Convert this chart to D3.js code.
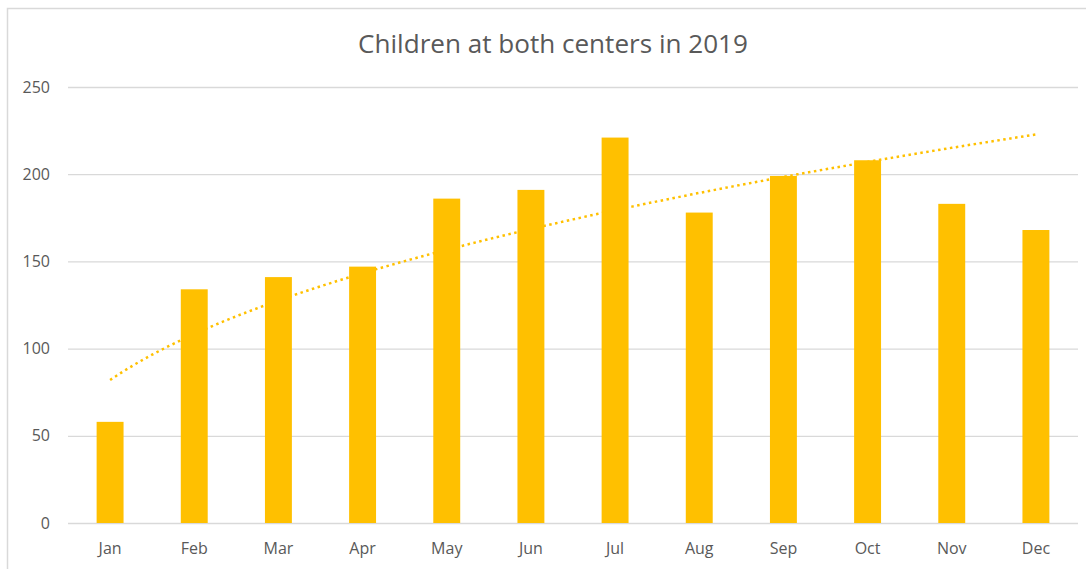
<!DOCTYPE html>
<html>
<head>
<meta charset="utf-8">
<script src="https://cdn.jsdelivr.net/npm/d3@7"></script>
<style>
  body { margin: 0; background: #fff; }
  svg text { font-family: "Open Sans", "Noto Sans", sans-serif; fill: #595959; }
</style>
</head>
<body>
<svg id="chart"></svg>
<script>
const months = ['Jan', 'Feb', 'Mar', 'Apr', 'May', 'Jun', 'Jul', 'Aug', 'Sep', 'Oct', 'Nov', 'Dec'];
const children = [58, 134, 141, 147, 186, 191, 221, 178, 199, 208, 183, 168];
const yTicks = [0, 50, 100, 150, 200, 250];
const chartTitle = 'Children at both centers in 2019';

const width = 1086, height = 569;
const margin = { top: 87, right: 8, bottom: 46, left: 68 };
const innerW = width - margin.left - margin.right;
const innerH = height - margin.top - margin.bottom;

const svg = d3.select('#chart')
    .attr('width', width)
    .attr('height', height);

// chart area frame
svg.append('rect')
    .attr('x', 7.5).attr('y', 8.5)
    .attr('width', width + 20).attr('height', height + 20)
    .attr('fill', 'none')
    .attr('stroke', '#d9d9d9')
    .attr('stroke-width', 1.5);

const title = svg.append('text')
    .attr('x', 553)
    .attr('y', 53)
    .attr('text-anchor', 'middle')
    .attr('font-size', 24)
    .text(chartTitle);
// fit the title to the width seen in the reference
const tw = title.node().getComputedTextLength();
title.attr('font-size', 24 * 390 / tw);

const chart = svg.append('g')
    .attr('transform', `translate(${margin.left},${margin.top})`);

const xScale = d3.scaleBand()
    .domain(months)
    .range([0, innerW])
    .paddingInner(0.68)
    .paddingOuter(0.34);

const yScale = d3.scaleLinear()
    .domain([0, 250])
    .range([innerH, 0]);

const yAxis = d3.axisLeft(yScale)
    .tickValues(yTicks)
    .tickSize(-innerW)
    .tickPadding(18)
    .tickSizeOuter(0);

chart.append('g')
    .attr('class', 'axis y-axis')
    .call(yAxis)
    .call(g => g.select('.domain').remove())
    .call(g => g.selectAll('line').attr('stroke', '#d9d9d9').attr('stroke-width', 1.3))
    .call(g => g.selectAll('text').attr('font-size', 16).attr('fill', '#595959'));

const xAxis = d3.axisBottom(xScale)
    .tickSize(0)
    .tickPadding(20);

chart.append('g')
    .attr('class', 'axis x-axis')
    .attr('transform', `translate(0,${innerH})`)
    .call(xAxis)
    .call(g => g.select('.domain').remove())
    .call(g => g.selectAll('text').attr('font-size', 16).attr('fill', '#595959'));

chart.selectAll('.bar')
    .data(children)
    .join('rect')
    .attr('class', 'bar')
    .attr('x', (d, i) => xScale(months[i]))
    .attr('y', d => yScale(d))
    .attr('width', xScale.bandwidth())
    .attr('height', d => innerH - yScale(d))
    .attr('fill', '#ffc000');

// power trendline fitted to the data (least squares in log-log space)
const lx = children.map((d, i) => Math.log(i + 1));
const ly = children.map(d => Math.log(d));
const mx = d3.mean(lx), my = d3.mean(ly);
const b = d3.sum(lx, (v, i) => (v - mx) * (ly[i] - my)) / d3.sum(lx, v => (v - mx) ** 2);
const c = Math.exp(my - b * mx);

const step = xScale.step();
const xPos = t => xScale(months[0]) + xScale.bandwidth() / 2 + (t - 1) * step;
const trend = d3.range(1, 12.001, 0.1).map(t => [xPos(t), yScale(c * Math.pow(t, b))]);

chart.append('path')
    .datum(trend)
    .attr('fill', 'none')
    .attr('stroke', '#ffc000')
    .attr('stroke-width', 2.5)
    .attr('stroke-dasharray', '2.5,3.5')
    .attr('d', d3.line().curve(d3.curveLinear));
</script>
</body>
</html>
